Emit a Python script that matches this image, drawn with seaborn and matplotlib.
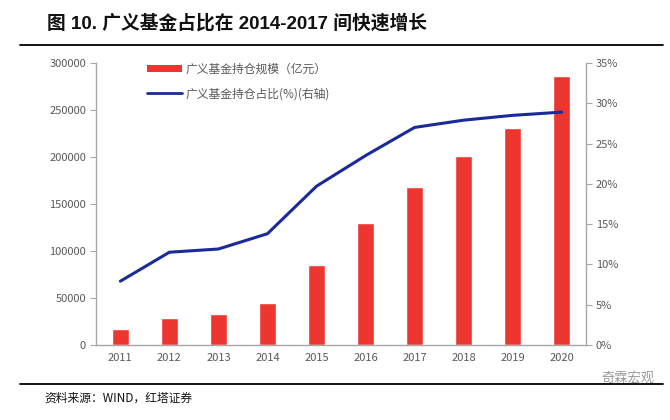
import numpy as np
import pandas as pd
import matplotlib
matplotlib.use('Agg')
import matplotlib.pyplot as plt
import seaborn as sns
from matplotlib.lines import Line2D
from matplotlib.patches import Patch
from matplotlib.ticker import FuncFormatter, FixedLocator

# data
years = ['2011', '2012', '2013', '2014', '2015', '2016', '2017', '2018', '2019', '2020']
scale = [17000, 28700, 33000, 44700, 85000, 130000, 168000, 201000, 231000, 286000]
ratio = [7.9, 11.5, 11.9, 13.8, 19.7, 23.5, 27.0, 27.9, 28.5, 28.9]

bar_label = '广义基金持仓规模（亿元）'
line_label = '广义基金持仓占比(%)(右轴)'
title = '图 10. 广义基金占比在 2014-2017 间快速增长'
source = '资料来源：WIND，红塔证券'

sns.set_style('white')
plt.rcParams['font.family'] = ['Noto Sans CJK SC', 'DejaVu Sans']

red = '#EE3631'
blue = '#1B2A9B'
grey = '#595959'
axis_grey = '#A6A6A6'

df = pd.DataFrame({'year': years, 'scale': scale, 'ratio': ratio})

fig = plt.figure(figsize=(6.7, 4.2), dpi=100)
ax = fig.add_axes([0.143, 0.179, 0.732, 0.671])

sns.barplot(data=df, x='year', y='scale', color=red, width=0.34,
            saturation=1, ax=ax)
ax.set_xlim(-0.5, len(years) - 0.5)
ax.set_ylim(0, 300000)
ax.set_yticks(np.arange(0, 300001, 50000))
ax.set_xlabel('')
ax.set_ylabel('')

ax2 = ax.twinx()
sns.lineplot(x=np.arange(len(years)), y=df['ratio'], color=blue, lw=2.2, ax=ax2)
ax2.set_ylim(0, 35)
ax2.set_yticks(np.arange(0, 36, 5))
ax2.yaxis.set_major_formatter(FuncFormatter(lambda v, p: f'{v:.0f}%'))
ax2.set_ylabel('')

# axis styling, excel-like
for a in (ax, ax2):
    for s in a.spines.values():
        s.set_visible(False)
ax.spines['left'].set_visible(True)
ax.spines['bottom'].set_visible(True)
ax2.spines['right'].set_visible(True)
for s in (ax.spines['left'], ax.spines['bottom'], ax2.spines['right']):
    s.set_color(axis_grey)
    s.set_linewidth(1)

ax.tick_params(axis='y', direction='out', length=4, color=axis_grey,
               labelcolor=grey, labelsize=8, pad=3)
ax2.tick_params(axis='y', direction='out', length=4, color=axis_grey,
                labelcolor=grey, labelsize=8, pad=3)
ax.tick_params(axis='x', which='major', length=0, labelcolor=grey, labelsize=8, pad=6)
ax.xaxis.set_minor_locator(FixedLocator(np.arange(-0.5, len(years), 1)))
ax.tick_params(axis='x', which='minor', direction='out', length=4, color=axis_grey)

# legend
handles = [Patch(facecolor=red, edgecolor='none'),
           Line2D([0], [0], color=blue, lw=2)]
ax.legend(handles, [bar_label, line_label], loc='upper left',
          bbox_to_anchor=(0.082, 1.04), frameon=False, fontsize=8.5,
          labelcolor=grey, handlelength=3.0, handleheight=0.5,
          labelspacing=1.0, handletextpad=0.3)

# title, rules and source
fig.text(0.07, 0.945, title, fontsize=13.5, fontweight='bold', va='center',
         color='#111111', family=['Liberation Sans', 'Noto Sans CJK SC'])
fig.add_artist(Line2D([0.03, 0.99], [0.893, 0.893], color='black', lw=1.3))
fig.add_artist(Line2D([0.03, 0.99], [0.086, 0.086], color='black', lw=1.3))
fig.text(0.067, 0.052, source, fontsize=8.5, va='center', color='#111111')
fig.text(0.897, 0.1, '奇霖宏观', fontsize=9.5, va='center', color='#9A9A9A')

fig.savefig('out.png', dpi=100)
